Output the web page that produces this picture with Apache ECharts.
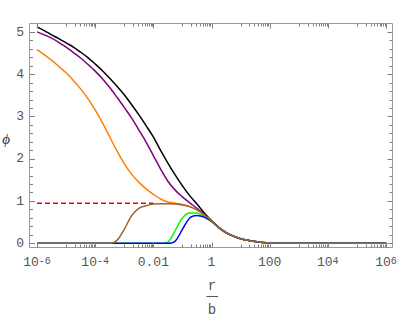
<!DOCTYPE html>
<html>
<head>
<meta charset="utf-8">
<script src="https://cdn.jsdelivr.net/npm/echarts@6/dist/echarts.min.js"></script>
<style>
html,body{margin:0;padding:0;background:#fff;}
#wrap{position:relative;width:401px;height:319px;}
#c,#t{position:absolute;left:0;top:0;width:401px;height:319px;}
#t{pointer-events:none;}
</style>
</head>
<body>
<div id="wrap"><div id="c"></div><div id="t"></div></div>
<script>
// x positions as powers of ten (exponents)
const xExp = [-6,-5.75,-5.5,-5.25,-5,-4.75,-4.5,-4.25,-4,-3.75,-3.5,-3.25,-3,-2.75,-2.5,-2.25,-2,-1.75,-1.5,-1.25,-1,-0.75,-0.5,-0.25,0,0.25,0.5,0.75,1,1.25,1.5,1.75,2,3,4,5,6];
const blackY  = [5.13,5.04,4.94,4.85,4.75,4.65,4.53,4.40,4.25,4.09,3.91,3.72,3.52,3.29,3.05,2.79,2.52,2.20,1.90,1.62,1.36,1.13,0.93,0.72,0.54,0.38,0.26,0.17,0.11,0.07,0.04,0.02,0.01,0,0,0,0];
const purpleY = [5.01,4.94,4.86,4.76,4.65,4.52,4.39,4.24,4.08,3.90,3.69,3.46,3.22,2.97,2.69,2.40,2.08,1.76,1.47,1.26,1.10,0.96,0.83,0.68,0.53,0.37,0.25,0.17,0.11,0.07,0.04,0.02,0.01,0,0,0,0];
const orangeY = [4.59,4.47,4.34,4.19,4.04,3.86,3.66,3.43,3.16,2.86,2.52,2.19,1.89,1.64,1.45,1.29,1.16,1.05,0.98,0.95,0.92,0.87,0.79,0.67,0.53,0.37,0.25,0.17,0.11,0.07,0.04,0.02,0.01,0,0,0,0];
const greenY  = [0,0,0,0,0,0,0,0,0,0,0,0,0,0,0,0,0,0,0.03,0.30,0.60,0.72,0.72,0.62,0.52,0.37,0.25,0.17,0.11,0.07,0.04,0.02,0.01,0,0,0,0];
const blueY   = [0,0,0,0,0,0,0,0,0,0,0,0,0,0,0,0,0,0,0,0.05,0.33,0.60,0.66,0.62,0.52,0.37,0.25,0.17,0.11,0.07,0.04,0.02,0.01,0,0,0,0];
const brownY  = [0,0,0,0,0,0,0,0,0,0,0,0.07,0.33,0.65,0.83,0.89,0.93,0.94,0.94,0.93,0.91,0.87,0.79,0.67,0.53,0.37,0.25,0.17,0.11,0.07,0.04,0.02,0.01,0,0,0,0];
const redX = [1e-6, 1e-2];
const redY = [0.95, 0.95];

// axis ticks
const xMajorTicks = [1e-6,1e-4,1e-2,1,1e2,1e4,1e6];
const xTickLabels = ['10{s|-6}','10{s|-4}','0.01','1','100','10{s|4}','10{s|6}'];
const oddDecades = [-5,-3,-1,1,3,5];
const mantissas = [1,2,3,4,5,6,7,8,9];

const xValues = xExp.map(e => Math.pow(10, e));
const pairs = ys => xValues.map((x, i) => [x, ys[i]]);

const tickData = xMajorTicks.map(v => [v, 1]);
oddDecades.forEach(k => mantissas.forEach(m => tickData.push([m * Math.pow(10, k), 0])));

const FONT = 'Liberation Mono';
const GRAY = '#808080';
const FRAME = '#999999';
const LABEL = '#555555';

const GRID = {left: 37, right: 15, top: 32.3, bottom: 75.7};
const XAXIS = {type: 'log', logBase: 10, min: 1e-6, max: 1e6, show: false};

function lineSeries(name, ys, color) {
  return {
    name, type: 'line', data: pairs(ys), showSymbol: false, symbol: 'none',
    smooth: 0.35, clip: false, lineStyle: {color, width: 1.5}, silent: true
  };
}

function yAxisDef(pos, offset, labels, ticks) {
  return {type: 'value', min: 0, max: 5, interval: 1, offset, position: pos,
    axisLine: {show: false, onZero: false}, splitLine: {show: false},
    axisTick: {show: ticks, inside: true, length: 5, lineStyle: {color: GRAY, width: 1}},
    minorTick: {show: ticks, splitNumber: 5, length: 3, lineStyle: {color: GRAY, width: 1}},
    axisLabel: labels ? {margin: 6, fontFamily: FONT, fontSize: 13, color: LABEL} : {show: false}};
}

// main chart: curves, labels, frame
const chart = echarts.init(document.getElementById('c'), null, {renderer: 'svg'});
chart.setOption({
  animation: false,
  backgroundColor: '#fff',
  grid: GRID,
  xAxis: XAXIS,
  yAxis: [yAxisDef('left', 7, true, false)],
  graphic: [
    {type: 'rect', shape: {x: 29.5, y: 23.5, width: 363, height: 224}, style: {fill: 'none', stroke: FRAME, lineWidth: 1}, silent: true, z: 10},
    {type: 'text', x: 6, y: 139, style: {text: 'ϕ', fontFamily: 'Liberation Serif', fontStyle: 'italic', fontSize: 15, fill: '#333333', align: 'center', verticalAlign: 'middle'}},
    {type: 'text', x: 212, y: 286, style: {text: 'r', fontFamily: FONT, fontSize: 14, fill: LABEL, align: 'center', verticalAlign: 'middle'}},
    {type: 'line', shape: {x1: 206.5, y1: 296.5, x2: 218, y2: 296.5}, style: {stroke: LABEL, lineWidth: 1}},
    {type: 'text', x: 212, y: 310, style: {text: 'b', fontFamily: FONT, fontSize: 14, fill: LABEL, align: 'center', verticalAlign: 'middle'}}
  ],
  series: [
    lineSeries('black', blackY, '#000000'),
    lineSeries('purple', purpleY, '#800080'),
    lineSeries('orange', orangeY, '#ff8000'),
    lineSeries('green', greenY, '#00ff00'),
    lineSeries('blue', blueY, '#0000ff'),
    lineSeries('brown', brownY, '#996633'),
    {name: 'red', type: 'line', data: redX.map((x, i) => [x, redY[i]]), showSymbol: false, symbol: 'none',
     clip: false, lineStyle: {color: '#ff0000', width: 1.5, type: [5, 3]}, silent: true},
    {
      name: 'xlabels', type: 'custom', data: xMajorTicks.map((v, i) => [v, i]), silent: true, clip: false,
      renderItem: function (params, api) {
        const x = api.coord([api.value(0), 0])[0];
        return {type: 'text', x: x, y: 262.5, style: {
          text: xTickLabels[api.value(1)], fontFamily: FONT, fontSize: 13, fill: LABEL,
          align: 'center', verticalAlign: 'middle',
          rich: {s: {fontFamily: FONT, fontSize: 10, fill: LABEL, verticalAlign: 'top'}}
        }};
      }
    }
  ]
});

// overlay: frame ticks drawn through the same axes
const ticks = echarts.init(document.getElementById('t'), null, {renderer: 'svg'});
ticks.setOption({
  animation: false,
  grid: GRID,
  xAxis: XAXIS,
  yAxis: [yAxisDef('left', 7, false, true), yAxisDef('right', 6.5, false, true)],
  series: [{
    name: 'xticks', type: 'custom', data: tickData, z: 11, clip: false, silent: true,
    renderItem: function (params, api) {
      const x = Math.round(api.coord([api.value(0), 0])[0]) + 0.5;
      const len = api.value(1) ? 5 : 3;
      return {type: 'group', children: [
        {type: 'line', shape: {x1: x, y1: 247.5, x2: x, y2: 247.5 - len}, style: {stroke: GRAY, lineWidth: 1}},
        {type: 'line', shape: {x1: x, y1: 23.5, x2: x, y2: 23.5 + len}, style: {stroke: GRAY, lineWidth: 1}}
      ]};
    }
  }]
});
</script>
</body>
</html>
